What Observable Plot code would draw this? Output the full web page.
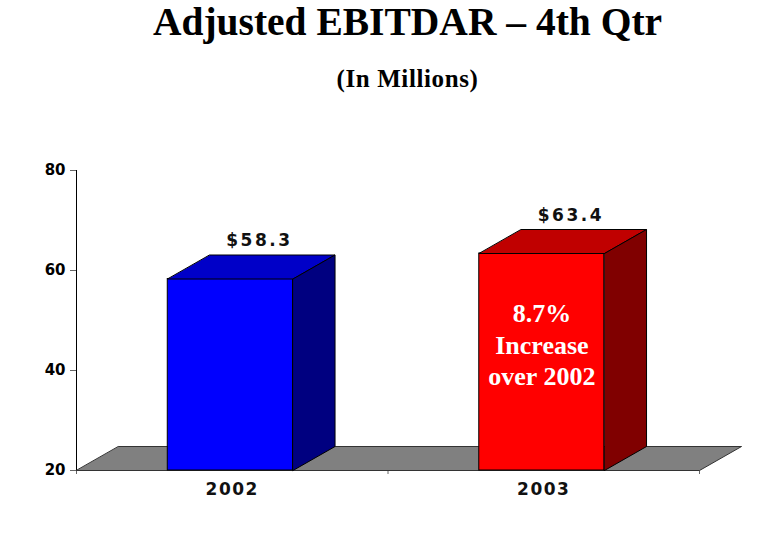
<!DOCTYPE html>
<html><head><meta charset="utf-8">
<script src="https://cdn.jsdelivr.net/npm/d3@7"></script>
<script src="https://cdn.jsdelivr.net/npm/@observablehq/plot@0.6"></script>
<style>
body{margin:0;background:#fff;width:775px;height:560px;overflow:hidden;position:relative}
.t{position:absolute;left:20px;width:775px;text-align:center;font-family:"Liberation Serif","Times New Roman",serif;font-weight:bold;color:#000;white-space:nowrap}
#title{top:3px;font-size:39.5px;line-height:39.5px}
#sub{top:66px;font-size:25px;line-height:25px;letter-spacing:0.6px}
#chart{position:absolute;left:0;top:100px}
g[aria-label*="axis"]{color:#666}
g[aria-label*="axis"] text{fill:#000;font-size:15px;font-weight:bold;font-family:"DejaVu Sans",sans-serif}
</style></head><body>
<div id="title" class="t">Adjusted EBITDAR – 4th Qtr</div>
<div id="sub" class="t">(In Millions)</div>
<div id="chart"></div>
<script>
const years = ["2002", "2003"];
const values = [58.3, 63.4];
const valueLabels = ["$58.3", "$63.4"];
const frontColors = ["#0000ff", "#ff0000"];
const topColors = ["#0000c8", "#c00000"];
const sideColors = ["#000080", "#800000"];
const yTicks = [20, 40, 60, 80];
const note = "8.7%\nIncrease\nover 2002";
const noteBar = 1;

// geometry in slot units (one slot per year) and value units
const base = 20;
const barLeft = 0.293, barRight = 0.695;
const depthX = 0.135, depthY = 4.8;

const bars = years.map((year, i) => ({year, i, v: values[i], x1: i + barLeft, x2: i + barRight}));
const faces = [];
bars.forEach(b => {
  const top = [[b.x1, b.v], [b.x2, b.v], [b.x2 + depthX, b.v + depthY], [b.x1 + depthX, b.v + depthY]];
  const side = [[b.x2, b.v], [b.x2 + depthX, b.v + depthY], [b.x2 + depthX, base + depthY], [b.x2, base]];
  top.forEach(([x, y]) => faces.push({id: "top" + b.i, x, y, fill: topColors[b.i]}));
  side.forEach(([x, y]) => faces.push({id: "side" + b.i, x, y, fill: sideColors[b.i]}));
});
const n = years.length;
const floor = [[0, base], [n, base], [n + depthX, base + depthY], [depthX, base + depthY]]
  .map(([x, y]) => ({x, y}));

const chart = Plot.plot({
  width: 775, height: 460,
  marginTop: 70, marginBottom: 90, marginLeft: 76, marginRight: 76,
  x: {domain: [0, n], ticks: d3.range(n + 1), tickFormat: () => "", tickSize: 4, line: true, label: null},
  y: {domain: [20, 80], ticks: yTicks, tickSize: 6, tickPadding: 5, line: true, label: null},
  color: {type: "identity"},
  style: {fontFamily: "DejaVu Sans", fontWeight: "bold", fontSize: "15px", background: "white", overflow: "visible"},
  marks: [
    Plot.line(floor, {x: "x", y: "y", fill: "#808080", stroke: "#333", strokeWidth: 1, curve: "linear-closed"}),
    Plot.rect(bars, {x1: "x1", x2: "x2", y1: () => base, y2: "v", fill: d => frontColors[d.i], stroke: "#000", strokeWidth: 1}),
    Plot.line(faces, {x: "x", y: "y", z: "id", fill: "fill", stroke: "#000", strokeWidth: 1, curve: "linear-closed"}),
    Plot.text(bars, {x: d => d.i + 0.5, y: () => base, text: "year", dy: 24, lineAnchor: "bottom",
      fontSize: 17, fontFamily: "DejaVu Sans", fontWeight: "bold", fill: "#111"}),
    Plot.text(bars, {x: d => d.i + (barLeft + barRight) / 2 + depthX / 2, y: "v", text: d => valueLabels[d.i],
      dy: -33, dx: 8, lineAnchor: "bottom", fontSize: 17, fontFamily: "DejaVu Sans", fontWeight: "bold", fill: "#111"}),
    Plot.text([note], {x: () => noteBar + (barLeft + barRight) / 2, y: () => values[noteBar], text: d => d,
      lineAnchor: "top", dy: 46, lineHeight: 1.22, fill: "white", fontSize: 26, fontFamily: "Liberation Serif", fontWeight: "bold"})
  ]
});
// letter spacing for the wide sans labels
d3.select(chart).selectAll("text")
  .filter(function () { return years.includes(this.textContent) || valueLabels.includes(this.textContent); })
  .style("letter-spacing", function () { return years.includes(this.textContent) ? "1.5px" : "2.5px"; });
document.getElementById("chart").appendChild(chart);
</script>
</body></html>
